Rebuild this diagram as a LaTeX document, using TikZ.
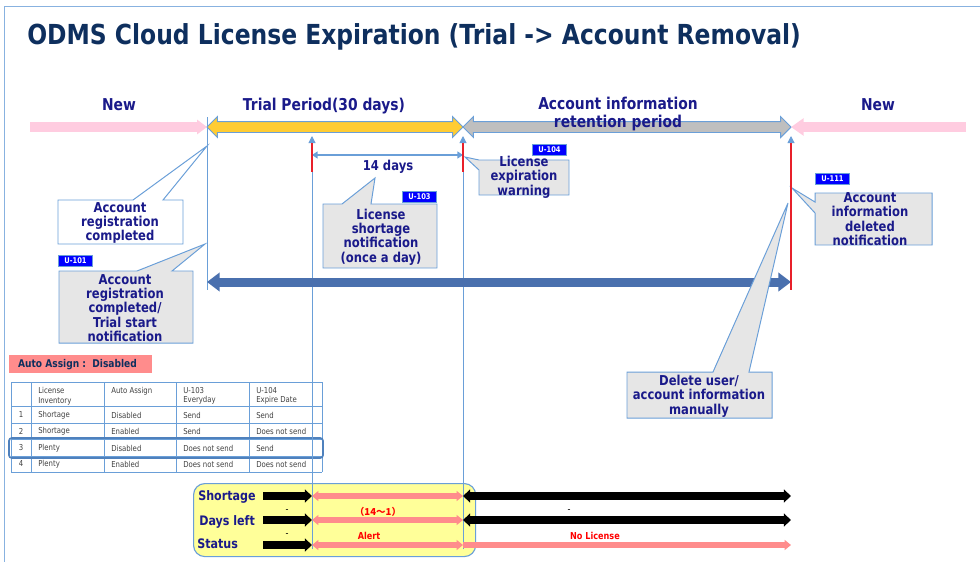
\documentclass[tikz,border=0pt]{standalone}
\usepackage{fontspec}
\setmainfont{DejaVu Sans}[FakeStretch=0.85]
\newfontfamily\cjk{Noto Sans CJK JP}
\usetikzlibrary{arrows.meta,positioning,shapes.arrows}
\definecolor{titlenavy}{HTML}{0E2F5E}
\definecolor{labelblue}{HTML}{1A1A8A}
\definecolor{frameblue}{HTML}{6A9FD8}
\definecolor{tagblue}{HTML}{0000FF}
\definecolor{calloutgrey}{HTML}{E6E6E6}
\definecolor{trialyellow}{HTML}{FFCC33}
\definecolor{retaingrey}{HTML}{BFBFBF}
\definecolor{newpink}{HTML}{FFCCE0}
\definecolor{alertpink}{HTML}{FF8C8C}
\definecolor{boxyellow}{HTML}{FFFF99}
\definecolor{flowblue}{HTML}{4A70AE}
\definecolor{markred}{HTML}{E8202A}
\definecolor{cellink}{HTML}{404040}
\definecolor{rowblue}{HTML}{4F81BD}

\begin{document}
\begin{tikzpicture}[x=0.025cm,y=-0.025cm,
  vline/.style={draw=frameblue,line width=0.7pt},
  callbox/.style={draw=frameblue,fill=calloutgrey,line width=0.7pt},
  calltext/.style={text=labelblue,font=\fontsize{9.7}{10.2}\selectfont\bfseries,align=center,inner sep=0pt},
  headtext/.style={text=labelblue,font=\fontsize{11.6}{12.2}\selectfont\bfseries,align=center,inner sep=0pt},
  utag/.style={fill=tagblue,draw=frameblue,line width=0.4pt,text=white,font=\fontsize{5.6}{6}\selectfont\bfseries,
    inner sep=0pt,minimum width=0.86cm,minimum height=0.27cm,anchor=north west},
  periodbar/.style={double arrow,draw=frameblue,line width=0.7pt,inner xsep=0pt,inner ysep=0.125cm,
    double arrow head extend=0.125cm,double arrow tip angle=90},
  flowline/.style={draw=flowblue,line width=6.4pt,>={Triangle[length=9pt,width=13pt]}},
  blackline/.style={draw=black,line width=5pt,>={Triangle[length=5pt,width=9pt]}},
  pinkline/.style={draw=alertpink,line width=3.8pt,>={Triangle[length=4.5pt,width=7pt]}},
  rowtext/.style={text=labelblue,font=\fontsize{9.3}{11}\selectfont\bfseries,anchor=base west,inner sep=0pt},
  redtext/.style={text=red,font=\fontsize{6.8}{8}\selectfont\bfseries,inner sep=0pt},
  dashtext/.style={font=\fontsize{6.8}{8}\selectfont,inner sep=0pt},
  celltext/.style={text=cellink,font=\fontsize{5.8}{6.8}\selectfont,inner sep=0pt,align=left},
  tabline/.style={draw=frameblue,line width=0.6pt}]
  \useasboundingbox (0,0) rectangle (980,561);
  \draw[frameblue!80,line width=0.6pt] (4,6) rectangle (1000,600);
  \node[anchor=base west,inner sep=0pt,text=titlenavy,font=\fontsize{19.6}{22}\selectfont\bfseries]
    (title) at (27,44) {ODMS Cloud License Expiration (Trial -> Account Removal)};
  % time points
  \coordinate (tnew) at (30,127);
  \coordinate (tstart) at (207,127);
  \coordinate (tshort) at (312,127);
  \coordinate (tend) at (463,127);
  \coordinate (tdel) at (791,127);
  \coordinate (tright) at (966,127);
  % periods
  \draw[newpink,line width=7pt,-{Triangle[length=7pt,width=10pt]}] (tnew) -- (tstart);
  \node[periodbar,fill=trialyellow,minimum height=6.4cm] (trial) at (335,127) {};
  \node[periodbar,fill=retaingrey,minimum height=8.2cm] (retain) at (627,127) {};
  \draw[newpink,line width=7pt,-{Triangle[length=9pt,width=12pt]}] (tright) -- (tdel);
  \node[headtext,anchor=base] (newl) at (119,110) {New};
  \node[headtext,anchor=base] (triall) at (324,110) {Trial Period(30 days)};
  \node[headtext] (retainl) at (618,114) {Account information\\retention period};
  \node[headtext,anchor=base] (newr) at (878,110) {New};
  % table
  \node[fill=alertpink,anchor=north west,minimum width=3.575cm,minimum height=0.45cm,inner sep=0pt]
    (autobox) at (9,355) {};
  \node[anchor=west,inner sep=0pt,text=titlenavy,font=\fontsize{7.6}{8}\selectfont\bfseries]
    (autol) at ([xshift=0.22cm]autobox.west) {Auto Assign :\ \ Disabled};
  \foreach \y in {382,406,423,439,456,472}
    \draw[tabline] (11,\y) -- (322,\y);
  \foreach \x in {11,31,104,176,249,322}
    \draw[tabline] (\x,382) -- (\x,472);
  \foreach \x/\t [count=\i] in {38/{License\\Inventory},111/{Auto Assign},183/{U-103\\Everyday},256/{U-104\\Expire Date}}
    \node[celltext,anchor=north west] (h\i) at (\x,387) {\t};
  \foreach \y/\n/\inv/\auto/\ua/\ub [count=\r] in {415/1/Shortage/Disabled/Send/Send,
      431/2/Shortage/Enabled/Send/Does not send,448/3/Plenty/Disabled/Does not send/Send,
      464/4/Plenty/Enabled/Does not send/Does not send} {
    \node[celltext] (n\r) at (21,\y) {\n};
    \node[celltext,anchor=west] (a\r) at (38,\y) {\inv};
    \node[celltext,anchor=west] (b\r) at (111,\y) {\auto};
    \node[celltext,anchor=west] (c\r) at (183,\y) {\ua};
    \node[celltext,anchor=west] (d\r) at (256,\y) {\ub};
  }
  \draw[rowblue,line width=1.2pt,rounded corners=2pt] (9,438) rectangle (323,458);
  % status box
  \node[draw=frameblue,fill=boxyellow,line width=0.8pt,rounded corners=8pt,anchor=north west,
    minimum width=7.05cm,minimum height=1.825cm] (flowbox) at (193,483) {};
  \node[rowtext] (shortl) at (198,500) {Shortage};
  \node[rowtext] (daysl) at (199,525) {Days left};
  \node[rowtext] (statl) at (197,548) {Status};
  % vertical markers
  \draw[vline] (tstart |- 0,117) -- (tstart |- 0,290);
  \draw[vline,-{Triangle[length=5pt,width=5pt]}] (tshort |- 0,549) -- (tshort |- 0,136);
  \draw[vline,-{Triangle[length=5pt,width=5pt]}] (tend |- 0,549) -- (tend |- 0,136);
  \draw[vline,-{Triangle[length=5pt,width=5pt]}] (tdel |- 0,290) -- (tdel |- 0,136);
  \draw[vline,line width=1pt,{Triangle[length=4pt,width=5pt]}-{Triangle[length=4pt,width=5pt]}]
    (tshort |- 0,155) -- (tend |- 0,155);
  \node[calltext] (fourteen) at (388,167) {14 days};
  \draw[flowline,<->] (tstart |- 0,282) -- (tdel |- 0,282);
  % callouts
  \draw[callbox,fill=white] (58,200) -- (133,200) -- (tstart |- 0,146) -- (163,200) -- (183,200)
    -- (183,244) -- (58,244) -- cycle;
  \node[calltext] (regdone) at (120,223) {Account\\registration\\completed};
  \node[utag] (u101) at (58,255) {U-101};
  \draw[callbox] (59,271) -- (137,271) -- (205,244) -- (172,271) -- (193,271) -- (193,343) -- (59,343) -- cycle;
  \node[calltext] (trialstart) at (125,308) {Account\\registration\\completed/\\Trial start\\notification};
  \node[utag] (u103) at (402,191) {U-103};
  \draw[callbox] (323,204) -- (342,204) -- (375,178) -- (371,204) -- (437,204) -- (437,268) -- (323,268) -- cycle;
  \node[calltext] (shortn) at (381,237) {License\\shortage\\notification\\(once a day)};
  \node[utag] (u104) at (532,144) {U-104};
  \draw[callbox] (479,160) -- (569,160) -- (569,195) -- (479,195) -- (479,170) -- (465,157) -- cycle;
  \node[calltext] (expwarn) at (524,177) {License\\expiration\\warning};
  \node[utag] (u111) at (815,173) {U-111};
  \draw[callbox] (815,193) -- (932,193) -- (932,245) -- (815,245) -- (815,213) -- (792,188) -- (815,202) -- cycle;
  \node[calltext] (deleted) at (870,219) {Account\\information\\deleted\\notification};
  \draw[callbox] (627,372) -- (713,372) -- (788,203) -- (749,372) -- (772,372) -- (772,418) -- (627,418) -- cycle;
  \node[calltext] (manual) at (699,396) {Delete user/\\account information\\manually};
  % red marks
  \draw[markred,line width=1.5pt] (tshort |- 0,143) -- (tshort |- 0,172);
  \draw[markred,line width=1.5pt] (tend |- 0,143) -- (tend |- 0,172);
  \draw[markred,line width=1.5pt] (tdel |- 0,143) -- (tdel |- 0,290);
  % status arrows
  \foreach \y in {496,520,545} {
    \draw[blackline,->] (263,\y) -- (tshort |- 0,\y);
    \draw[pinkline,<->] (tshort |- 0,\y) -- (tend |- 0,\y);
  }
  \foreach \y in {496,520}
    \draw[blackline,<->] (tend |- 0,\y) -- (tdel |- 0,\y);
  \draw[pinkline,->] (tend |- 0,545) -- (tdel |- 0,545);
  \node[dashtext] (dash1) at (287,511) {-};
  \node[dashtext] (dash2) at (287,535) {-};
  \node[dashtext] (dash3) at (569,511) {-};
  \node[redtext] (daysn) at (378,512) {\cjk （14～1）};
  \node[redtext] (alertl) at (369,536) {Alert};
  \node[redtext] (nolic) at (595,536) {No License};
\end{tikzpicture}
\end{document}
